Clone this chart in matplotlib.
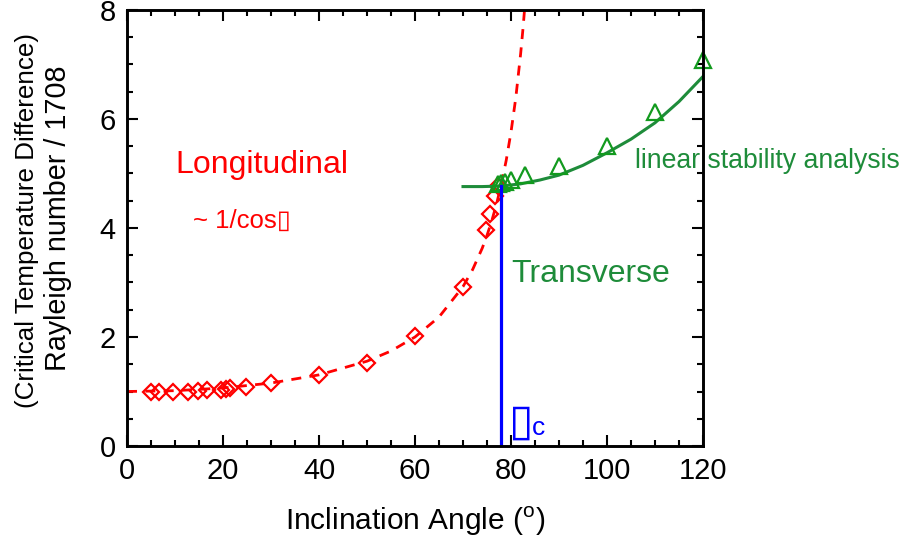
import numpy as np
import matplotlib
matplotlib.use("Agg")
from matplotlib import pyplot as plt
from matplotlib.ticker import MultipleLocator

# longitudinal measurements (red diamonds)
long_x = [5, 6.7, 9.6, 12.8, 14.7, 16.7, 19.6, 20.6, 21.5, 24.8, 30, 40, 50, 60, 70, 74.8, 75.7, 76.7, 77.3]
long_y = [1.0, 1.0, 1.0, 1.0, 1.01, 1.02, 1.03, 1.05, 1.06, 1.08, 1.15, 1.30, 1.52, 2.02, 2.92, 3.97, 4.25, 4.58, 4.77]

# ~1/cos curve (red dashed)
cos_x = [0, 10, 20, 30, 40, 50, 55, 60, 65, 70, 72, 74, 75, 76, 77, 78, 79, 80, 81, 82, 82.5, 83]
cos_y = [1.0, 1.015, 1.064, 1.155, 1.305, 1.556, 1.743, 2.0, 2.366, 2.924, 3.236, 3.628, 3.864, 4.134,
         4.445, 4.81, 5.24, 5.76, 6.39, 7.19, 7.66, 8.2]

# transverse measurements (green triangles)
trans_x = [77.3, 78, 78.7, 80, 83, 90, 100, 110, 120]
trans_y = [4.80, 4.82, 4.84, 4.88, 4.97, 5.13, 5.50, 6.12, 7.08]

# linear stability analysis (green line)
lsa_x = [70, 74, 78, 82, 86, 90, 95, 100, 105, 110, 115, 120]
lsa_y = [4.76, 4.76, 4.77, 4.81, 4.88, 4.97, 5.15, 5.38, 5.63, 5.93, 6.32, 6.78]

theta_c = 78.0
theta_c_top = 4.77

plt.rcParams['font.family'] = ['Liberation Sans', 'DejaVu Sans']
plt.rcParams['mathtext.fontset'] = 'custom'
plt.rcParams['mathtext.rm'] = 'Liberation Sans'

red = "#ff0000"
green = "#1e8c3a"
green_mk = "#129a1e"
blue = "#0000ff"

fig = plt.figure(figsize=(9.16, 5.45), dpi=100)
ax = fig.add_axes([127 / 916, 99 / 545, 576 / 916, 436 / 545])

ax.plot(cos_x, cos_y, color=red, lw=2.0, dashes=(3.6, 3.0))
ax.plot(long_x, long_y, ls="none", marker="D", ms=8.5, mfc="none", mec=red, mew=1.6)
ax.plot(lsa_x, lsa_y, color=green, lw=2.2)
ax.plot(trans_x, trans_y, ls="none", marker="^", ms=11, mfc="none", mec=green_mk, mew=1.6, clip_on=False)
ax.plot([theta_c, theta_c], [0, theta_c_top], color=blue, lw=2.3)

ax.set_xlim(0, 120)
ax.set_ylim(0, 8)
ax.xaxis.set_major_locator(MultipleLocator(20))
ax.xaxis.set_minor_locator(MultipleLocator(5))
ax.yaxis.set_major_locator(MultipleLocator(2))
ax.yaxis.set_minor_locator(MultipleLocator(0.5))
ax.tick_params(which="both", direction="in", top=True, right=True, width=1.5, labelsize=21, pad=8)
ax.tick_params(which="major", length=8)
ax.tick_params(which="minor", length=4)
for s in ax.spines.values():
    s.set_linewidth(2.1)

ax.set_xlabel("Inclination Angle ($^{\\mathrm{o}}$)", fontsize=21.5, labelpad=14)
fig.text(27 / 916, 1 - 220 / 545, "(Critical Temperature Difference)", rotation=90,
         ha="center", va="center", fontsize=18.7)
fig.text(58 / 916, 1 - 218 / 545, "Rayleigh number / 1708", rotation=90,
         ha="center", va="center", fontsize=20.7)

ax.text(10, 5.0, "Longitudinal", color=red, fontsize=23, va="baseline")
ax.text(13.7, 4.0, "~ 1/cos\u25af", color=red, fontsize=18.5, va="baseline")
ax.text(80, 3.0, "Transverse", color=green, fontsize=23, va="baseline")
ax.text(105.8, 5.11, "linear stability analysis", color=green, fontsize=19.2, va="baseline", clip_on=False)
ax.text(79.5, 0.2, "\u25af", color=blue, fontsize=32, va="baseline")
ax.text(84.4, 0.2, "c", color=blue, fontsize=19, va="baseline")

fig.savefig("out.png", dpi=100)
